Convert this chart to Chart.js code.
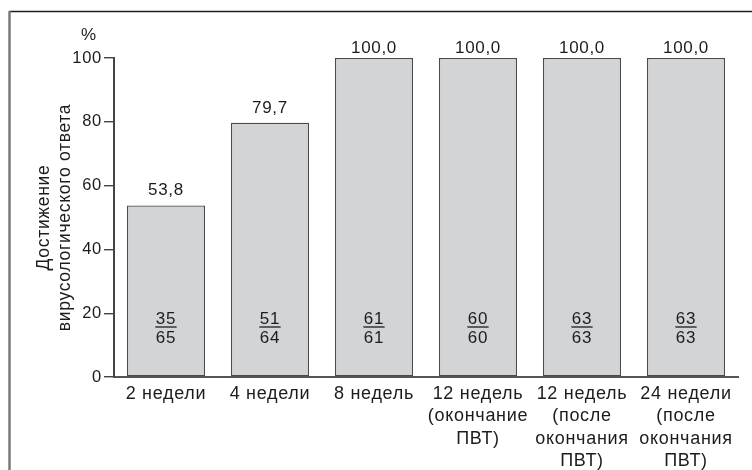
<!DOCTYPE html>
<html lang="ru">
<head>
<meta charset="utf-8">
<title>Достижение вирусологического ответа</title>
<script src="https://cdn.jsdelivr.net/npm/chart.js@4/dist/chart.umd.min.js"></script>
<style>
  html, body { margin: 0; padding: 0; background: #ffffff; }
  #wrap { width: 752px; height: 470px; position: relative; }
</style>
</head>
<body>
<div id="wrap"><canvas id="chart" width="752" height="470"></canvas></div>
<script>
// Time points (multi-line category labels)
const categories = [
  ['2 недели'],
  ['4 недели'],
  ['8 недель'],
  ['12 недель', '(окончание', 'ПВТ)'],
  ['12 недель', '(после', 'окончания', 'ПВТ)'],
  ['24 недели', '(после', 'окончания', 'ПВТ)']
];
// Share of patients with virological response, %
const responseRate = [53.8, 79.7, 100.0, 100.0, 100.0, 100.0];
// Responders / patients evaluated at each time point
const responders = [35, 51, 61, 60, 63, 63];
const evaluated = [65, 64, 61, 60, 63, 63];
// Value axis ticks
const yTicks = [0, 20, 40, 60, 80, 100];

const FONT = '"Liberation Sans", Arial, Helvetica, sans-serif';
const INK = '#1c1c1c';
const SPACING = '0.7px';

// Frame, unit sign, value labels and fractions
const annotate = {
  id: 'annotate',
  beforeDraw(chart) {
    const ctx = chart.ctx;
    // slightly open tracking for every piece of text on the canvas
    ctx.letterSpacing = SPACING;
    ctx.save();
    ctx.strokeStyle = '#1e1e1e';
    ctx.lineWidth = 1.5;
    ctx.beginPath();
    ctx.moveTo(9, 11.5);
    ctx.lineTo(chart.width, 11.5);
    ctx.stroke();
    ctx.strokeStyle = '#7a7a7a';
    ctx.lineWidth = 2.5;
    ctx.beginPath();
    ctx.moveTo(9.5, 11);
    ctx.lineTo(9.5, chart.height);
    ctx.stroke();
    ctx.restore();
  },
  afterDatasetsDraw(chart) {
    const ctx = chart.ctx;
    const meta = chart.getDatasetMeta(0);
    const y = chart.scales.y;
    const area = chart.chartArea;
    ctx.save();
    ctx.letterSpacing = SPACING;
    ctx.fillStyle = INK;
    ctx.strokeStyle = INK;
    ctx.textAlign = 'center';

    // unit sign above the value axis
    ctx.font = '17px ' + FONT;
    ctx.textBaseline = 'middle';
    ctx.fillText('%', area.left - 25, 35);

    const base = y.getPixelForValue(0);
    meta.data.forEach((bar, i) => {
      const v = responseRate[i];
      const txt = v.toFixed(1).replace('.', ',');
      ctx.font = '17px ' + FONT;
      ctx.textBaseline = 'alphabetic';
      const by = Math.max(bar.y - 10, area.top - 5);
      ctx.fillText(txt, bar.x, by);

      // fraction responders / evaluated
      const lineY = base - 50;
      const num = String(responders[i]);
      const den = String(evaluated[i]);
      const w = Math.max(ctx.measureText(num).width, ctx.measureText(den).width) + 1;
      ctx.textBaseline = 'middle';
      ctx.fillText(num, bar.x, lineY - 8);
      ctx.fillText(den, bar.x, lineY + 11);
      ctx.lineWidth = 1.3;
      ctx.beginPath();
      ctx.moveTo(bar.x - w / 2, lineY);
      ctx.lineTo(bar.x + w / 2, lineY);
      ctx.stroke();
    });
    ctx.restore();
  }
};

new Chart(document.getElementById('chart'), {
  type: 'bar',
  data: {
    labels: categories,
    datasets: [{
      data: responseRate,
      backgroundColor: '#d3d4d6',
      borderColor: '#4a4a4a',
      borderWidth: 1.3,
      borderSkipped: false,
      barPercentage: 0.75,
      categoryPercentage: 1.0
    }]
  },
  options: {
    responsive: false,
    animation: false,
    devicePixelRatio: 1,
    layout: { padding: { left: 20, top: 58, right: 14, bottom: 0 } },
    plugins: {
      legend: { display: false },
      tooltip: { enabled: false }
    },
    scales: {
      x: {
        grid: { display: false, drawTicks: false },
        border: { display: true, color: '#555555', width: 2 },
        ticks: {
          autoSkip: false,
          maxRotation: 0,
          minRotation: 0,
          padding: 6,
          color: INK,
          font: { family: FONT, size: 18, lineHeight: '22.3px' }
        },
        afterFit(scale) { scale.height = 93; }
      },
      y: {
        min: 0,
        max: 100,
        afterBuildTicks(scale) { scale.ticks = yTicks.map(v => ({ value: v })); },
        grid: {
          drawOnChartArea: false,
          drawTicks: true,
          tickLength: 10,
          color: '#444444',
          lineWidth: 1.4
        },
        border: { display: true, color: '#444444', width: 2 },
        ticks: {
          padding: 2,
          color: INK,
          font: { family: FONT, size: 16.5 }
        },
        title: {
          display: true,
          text: ['Достижение', 'вирусологического ответа'],
          color: INK,
          padding: { top: 14, bottom: 0 },
          font: { family: FONT, size: 17.5, lineHeight: '21px' }
        },
        afterFit(scale) { scale.width = 94; }
      }
    }
  },
  plugins: [annotate]
});
</script>
</body>
</html>
